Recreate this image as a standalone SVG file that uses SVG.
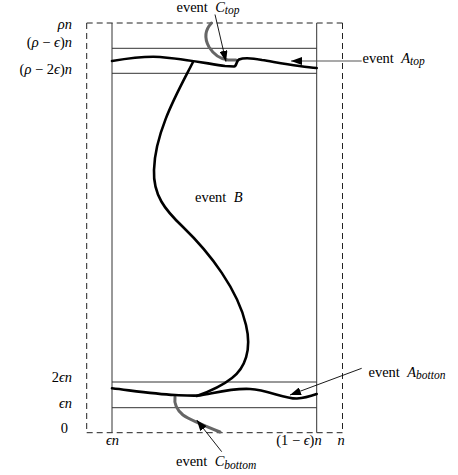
<svg xmlns="http://www.w3.org/2000/svg" width="458" height="475" viewBox="0 0 458 475">
<style>
text{font-family:"Liberation Serif","DejaVu Serif",serif;font-size:14.5px;fill:#000}
.m{font-style:italic}
.s{font-size:11.5px;font-style:italic}
.frame{stroke:#333;stroke-width:1;fill:none}
.dash{stroke:#222;stroke-width:1;fill:none;stroke-dasharray:6 4}
.thick{stroke:#000;stroke-width:2.6;fill:none;stroke-linecap:round;stroke-linejoin:round}
.grey{stroke:#666;stroke-width:3;fill:none;stroke-linecap:round}
.arr{stroke:#000;stroke-width:0.9;fill:none;marker-end:url(#ah)}
.arrg{stroke:#555;stroke-width:1.2;fill:none;marker-end:url(#ah)}
</style>
<defs>
<marker id="ah" markerUnits="userSpaceOnUse" markerWidth="11" markerHeight="8" refX="11" refY="4" orient="auto">
<path d="M0,0 L11,4 L0,8 z" fill="#000"/>
</marker>
</defs>
<g id="frame">
<line class="dash" x1="86.7" y1="23" x2="342.5" y2="23"/>
<line class="dash" x1="86.7" y1="432.7" x2="342.5" y2="432.7"/>
<line class="dash" x1="86.7" y1="23" x2="86.7" y2="432.7"/>
<line class="dash" x1="342.5" y1="23" x2="342.5" y2="432.7"/>
<line class="frame" x1="112" y1="23" x2="112" y2="432.7"/>
<line class="frame" x1="316.7" y1="23" x2="316.7" y2="432.7"/>
<line class="frame" x1="112" y1="48.3" x2="316.7" y2="48.3"/>
<line class="frame" x1="112" y1="73.3" x2="316.7" y2="73.3"/>
<line class="frame" x1="112" y1="382" x2="316.7" y2="382"/>
<line class="frame" x1="112" y1="407.7" x2="316.7" y2="407.7"/>
</g>
<g id="axis-labels">
<text class="m" x="72" y="29" text-anchor="end">ρn</text>
<text x="72" y="47" text-anchor="end">(<tspan class="m">ρ</tspan> − <tspan class="m">ϵ</tspan>)<tspan class="m">n</tspan></text>
<text x="72" y="74" text-anchor="end">(<tspan class="m">ρ</tspan> − 2<tspan class="m">ϵ</tspan>)<tspan class="m">n</tspan></text>
<text x="72" y="381.5" text-anchor="end">2<tspan class="m">ϵn</tspan></text>
<text class="m" x="72" y="407.5" text-anchor="end">ϵn</text>
<text x="68" y="432.7" text-anchor="end">0</text>
<text class="m" x="112.5" y="445" text-anchor="middle">ϵn</text>
<text x="321.7" y="445" text-anchor="end">(1 − <tspan class="m">ϵ</tspan>)<tspan class="m">n</tspan></text>
<text class="m" x="341" y="445" text-anchor="middle">n</text>
</g>
<g id="curve-C-top">
<path class="grey" d="M211.5,23 C205,30 204,38 209,47 C214,55 220,59 228,60 L236,60"/>
</g>
<g id="curve-C-bottom">
<path class="grey" d="M175,396.7 C174,403 176,409 183,415 C190,420 200,424 220,432"/>
</g>
<g id="curve-A-top">
<path class="thick" d="M112,61 C130,58 145,56 160,57 C185,59 210,64 225,66 L234,66.5 C237,66 236,61 239,59.5 C245,57 252,58 262,60 C280,63 300,67 316.7,68"/>
</g>
<g id="curve-B">
<path class="thick" d="M193,62 C180,88 155,130 154,170 C153,195 165,210 183,227 C210,253 238,290 246,325 C252,350 245,368 232,378 C222,386 208,392 196.7,396"/>
</g>
<g id="curve-A-bottom">
<path class="thick" d="M112,388.3 C135,391 155,394 175,395 C185,395.5 192,396 200,395.5 C215,393 232,388 250,389 C268,390 285,399 297,398.5 C305,398 311,396 316.7,394"/>
</g>
<g id="connectors">
<line class="arr" x1="215" y1="14.5" x2="226" y2="61.7"/>
<line class="arrg" x1="361.7" y1="61" x2="291" y2="61"/>
<line class="arr" x1="361.7" y1="368.3" x2="290" y2="395"/>
<line class="arr" x1="221.7" y1="451.7" x2="196.7" y2="420"/>
</g>
<g id="label-C-top"><text x="176.5" y="12" xml:space="preserve">event  <tspan class="m">C</tspan><tspan class="s" dy="2.3">top</tspan></text></g>
<g id="label-A-top"><text x="362.5" y="62.7" xml:space="preserve">event  <tspan class="m">A</tspan><tspan class="s" dy="2.5">top</tspan></text></g>
<g id="label-B"><text x="195" y="201.7" xml:space="preserve">event  <tspan class="m">B</tspan></text></g>
<g id="label-A-bottom"><text x="368.5" y="376.7" xml:space="preserve">event  <tspan class="m">A</tspan><tspan class="s" dy="2.5">botton</tspan></text></g>
<g id="label-C-bottom"><text x="176" y="466" xml:space="preserve">event  <tspan class="m">C</tspan><tspan class="s" dy="2.5">bottom</tspan></text></g>
</svg>
